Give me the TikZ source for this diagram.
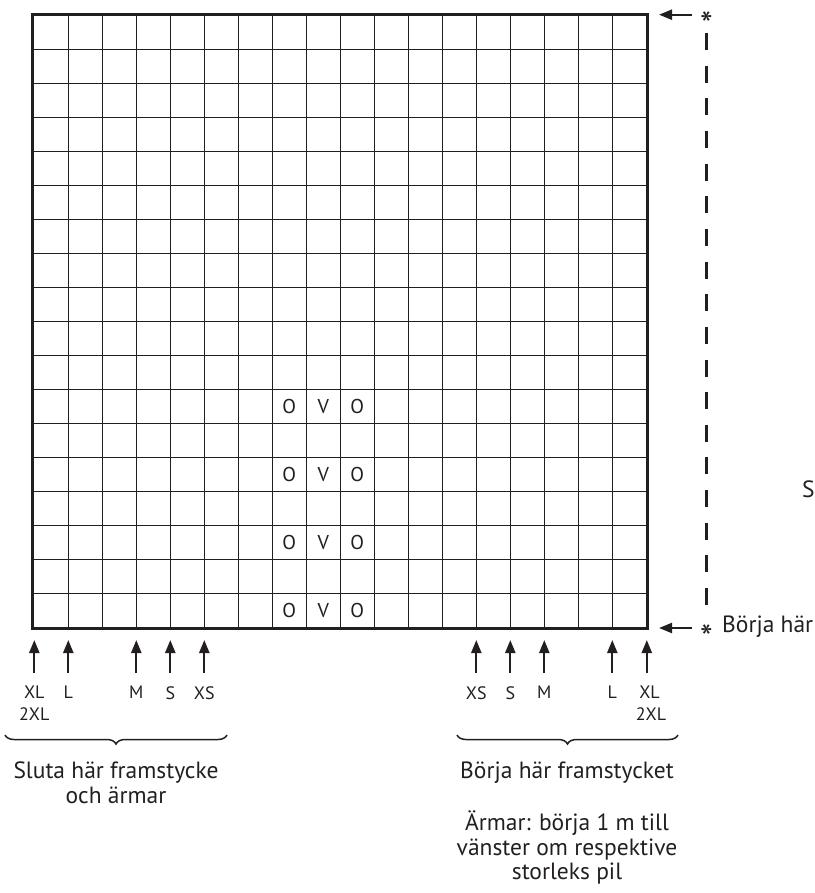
\documentclass[tikz,border=0pt]{standalone}
\usepackage{fontspec}
\setmainfont{PT Sans}
\usetikzlibrary{arrows.meta,decorations.pathreplacing}
\definecolor{ink}{HTML}{231F20}
\tikzset{
  gridline/.style={draw=ink, line width=1.3pt},
  border/.style={draw=ink, line width=3pt},
  sym/.style={font=\fontsize{20}{22}\selectfont, text=ink, inner sep=0pt},
  star/.style={font=\fontsize{36}{36}\selectfont, text=ink, inner sep=0pt},
  sizelbl/.style={font=\fontsize{18}{21.5}\selectfont, text=ink, inner sep=0pt, align=center, anchor=north},
  note/.style={font=\fontsize{23.5}{24.5}\selectfont, text=ink, inner sep=0pt, align=center, anchor=north},
  uparrow/.style={draw=ink, line width=2.2pt, -{Triangle[length=13pt,width=10pt]}},
  leftarrow/.style={draw=ink, line width=2.2pt, -{Triangle[length=13pt,width=10pt]}},
  bracestyle/.style={draw=ink, line width=1.5pt, decorate, decoration={brace, mirror, amplitude=9pt}},
  dashline/.style={draw=ink, line width=2.6pt, dash pattern=on 17pt off 15.65pt},
}
\begin{document}
\begin{tikzpicture}[x=1pt,y=-1pt]
\useasboundingbox (0,0) rectangle (814,893);
% grid
\foreach \k in {1,...,17}{
  \draw[gridline] (34.3+34*\k,14) -- (34.3+34*\k,628.3);
  \draw[gridline] (33,15.7+34*\k) -- (647.5,15.7+34*\k);
}
\draw[border] (32.8,14.3) rectangle (647.6,628.3);
% symbols
\foreach \r/\n in {11/a,13/b,15/c,17/d}{
  \node[sym] (o1\n) at (289.3,15.7+34*\r+17) {O};
  \node[sym] (v\n)  at (323.3,15.7+34*\r+17) {V};
  \node[sym] (o2\n) at (357.3,15.7+34*\r+17) {O};
}
% right side: dashed line and start/stop marks
\node[star] (startop) at (706.5,24.5) {*};
\node[star] (starbot) at (706.5,638) {*};
\coordinate (dtop) at (706.7,33);
\coordinate (dbot) at (706.7,607);
\draw[dashline] (dtop) -- (dbot);
\coordinate (atop) at (692,14.7);
\coordinate (ttop) at (659,14.7);
\draw[leftarrow] (atop) -- (ttop);
\coordinate (abot) at (692,628);
\coordinate (tbot) at (659,628);
\draw[leftarrow] (abot) -- (tbot);
\node[font=\fontsize{23.5}{24}\selectfont, text=ink, inner sep=0pt, anchor=west] (borja) at (722,627) {Börja här};
\node[font=\fontsize{23.5}{24}\selectfont, text=ink, inner sep=0pt, anchor=west] (sright) at (802,489) {S};
% bottom arrows and labels
\foreach \k/\lab/\nm in {0/{XL\\2XL}/lxl,1/L/ll,3/M/lm,4/S/ls,5/XS/lxs,13/XS/rxs,14/S/rs,15/M/rm,17/L/rl}{
  \node[sizelbl] (\nm) at (34.3+34*\k,686) {\lab};
  \coordinate (\nm tail) at (34.3+34*\k,673);
  \coordinate (\nm tip) at (34.3+34*\k,640);
  \draw[uparrow] (\nm tail) -- (\nm tip);
}
\node[sizelbl] (rxl) at (649.5,686) {XL\\\hspace*{3pt}2XL};
\coordinate (rxltail) at (646.8,673);
\coordinate (rxltip) at (646.8,640);
\draw[uparrow] (rxltail) -- (rxltip);
% braces
\coordinate (lb1) at (5,735);
\coordinate (lb2) at (227,735);
\draw[bracestyle] (lb1) -- (lb2);
\coordinate (rb1) at (457,735);
\coordinate (rb2) at (678,735);
\draw[bracestyle] (rb1) -- (rb2);
% notes
\node[note] (lnote) at (116,762) {Sluta här framstycke\\och ärmar};
\node[note] (rnote) at (567,762) {Börja här framstycket};
\node[note] (rnote2) at (567,811) {Ärmar: börja 1 m till\\vänster om respektive\\storleks pil};
\end{tikzpicture}
\end{document}
